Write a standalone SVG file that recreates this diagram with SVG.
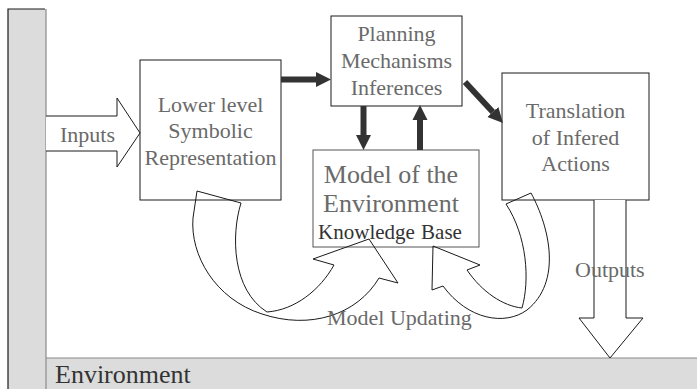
<svg xmlns="http://www.w3.org/2000/svg" width="697" height="389" viewBox="0 0 697 389">
  <style>
    .box { fill: #ffffff; stroke: #1a1a1a; stroke-width: 1; }
    .lbl { font-family: "Liberation Serif", "Times New Roman", serif; font-size: 22px; fill: #6a6a6a; text-anchor: middle; }
    .free { font-family: "Liberation Serif", "Times New Roman", serif; font-size: 22px; fill: #6a6a6a; }
    .thick { stroke: #333333; stroke-width: 6; fill: none; marker-end: url(#head); }
    .hollow { fill: #ffffff; stroke: #1a1a1a; stroke-width: 1; stroke-linejoin: miter; }
    .ribbon { fill: none; stroke: #1a1a1a; stroke-width: 1; stroke-linejoin: miter; }
  </style>
  <defs>
    <marker id="head" markerUnits="userSpaceOnUse" markerWidth="16" markerHeight="16" refX="0" refY="8" orient="auto">
      <path d="M0,0.5 L15,8 L0,15.5 Z" fill="#333333"/>
    </marker>
  </defs>

  <rect width="697" height="389" fill="#ffffff"/>

  <!-- environment frame: left wall and floor -->
  <g id="environment">
    <rect x="8" y="9" width="38" height="380" fill="#dcdcdc"/>
    <rect x="46" y="358" width="651" height="31" fill="#dcdcdc"/>
    <path d="M8,389 V9 H45" fill="none" stroke="#1a1a1a" stroke-width="1.2"/>
    <path d="M46,9 V389" fill="none" stroke="#8a8a8a" stroke-width="1.2"/>
    <path d="M46,358 H697" fill="none" stroke="#8a8a8a" stroke-width="1.2"/>
    <text x="55" y="383" style="font-family: 'Liberation Serif', 'Times New Roman', serif; font-size: 26px; fill: #333333;">Environment</text>
  </g>

  <g id="lower-level">
    <rect class="box" x="140" y="60" width="141" height="140"/>
    <text class="lbl" x="210.5" y="112">Lower level</text>
    <text class="lbl" x="210.5" y="138">Symbolic</text>
    <text class="lbl" x="210.5" y="165">Representation</text>
  </g>

  <g id="planning">
    <rect class="box" x="331" y="16" width="131" height="90"/>
    <text class="lbl" x="396.5" y="41">Planning</text>
    <text class="lbl" x="396.5" y="68">Mechanisms</text>
    <text class="lbl" x="396.5" y="95">Inferences</text>
  </g>

  <g id="translation">
    <rect class="box" x="502" y="73" width="147" height="127"/>
    <text class="lbl" x="575.5" y="118">Translation</text>
    <text class="lbl" x="575.5" y="145">of Infered</text>
    <text class="lbl" x="575.5" y="171">Actions</text>
  </g>

  <g id="model">
    <rect class="box" x="313" y="150" width="166" height="97" style="stroke:#555555"/>
    <text class="lbl" x="391" y="183" style="font-size:26px">Model of the</text>
    <text class="lbl" x="391" y="212" style="font-size:26px">Environment</text>
    <text class="lbl" x="390" y="239" style="font-size:21px; fill:#333333; word-spacing:1px">Knowledge Base</text>
  </g>

  <g id="connectors">
    <!-- inputs block arrow -->
    <path class="hollow" d="M46,116 H117 V98 L140,133 L117,167 V151 H46"/>
    <text class="free" x="60" y="142">Inputs</text>

    <!-- solid flow arrows -->
    <line class="thick" x1="281" y1="79.5" x2="316" y2="79.5"/>
    <line class="thick" x1="363.5" y1="106" x2="363.5" y2="135"/>
    <line class="thick" x1="420" y1="150" x2="420" y2="120"/>
    <line class="thick" x1="465" y1="82" x2="492.8" y2="112"/>

    <!-- curved model-updating arrow from the symbolic representation -->
    <path class="ribbon" d="M197,191 L241,203 C231,235 232,290 267,312 C295,310 320,290 334,265 L313,259 L369,239 L398,283 L379,278 C357,315 310,330 262,314 C215,299 190,255 193,218 Z"/>

    <!-- curved model-updating arrow from the translated actions -->
    <path class="ribbon" d="M506,204 L531,193 C550,228 562,282 527,310 C505,326 468,320 443,286 L432,290 L433,246 L480,265 L467,270 C482,292 503,306 522,308 C530,280 527,236 506,204 Z"/>

    <text class="free" x="327" y="325">Model Updating</text>

    <!-- outputs block arrow -->
    <path class="hollow" d="M594,200 V318 H579 L610,358 L643,318 H626 V200"/>
    <text class="free" x="575" y="277">Outputs</text>
  </g>
</svg>
